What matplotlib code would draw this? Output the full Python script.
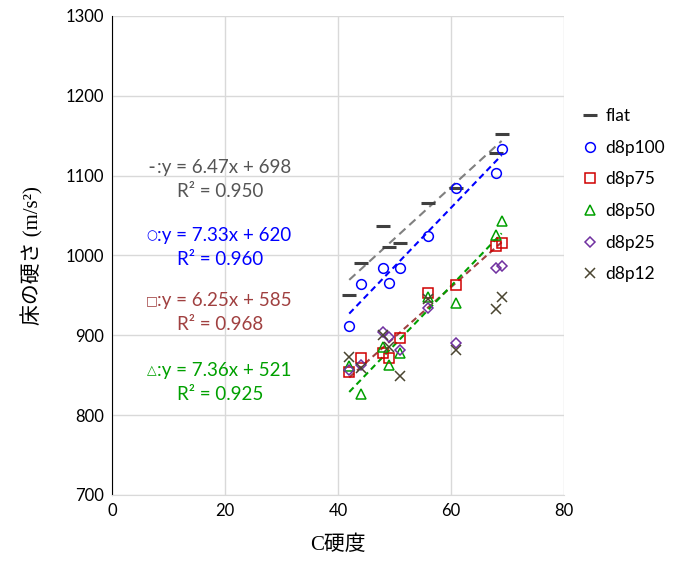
import numpy as np
import matplotlib
matplotlib.use("Agg")
import matplotlib.pyplot as plt

plt.rcParams['font.family'] = ['Lato', 'Noto Sans CJK JP', 'DejaVu Sans']

# C hardness of each test point
x = [42, 44, 48, 49, 51, 56, 61, 68, 69]

# floor hardness (m/s^2) for each series
flat = [950, 990, 1037, 1010, 1016, 1066, 1084, 1128, 1152]
d8p100 = [911, 964, 984, 965, 984, 1024, 1084, 1103, 1133]
d8p75 = [854, 871, 878, 871, 896, 953, 963, 1012, 1016]
d8p50 = [861, 826, 885, 863, 878, 948, 940, 1026, 1043]
d8p25 = [856, 863, 904, 898, 881, 934, 890, 984, 987]
d8p12 = [873, 859, 900, 885, 849, 945, 881, 933, 948]

names = ['flat', 'd8p100', 'd8p75', 'd8p50', 'd8p25', 'd8p12']
series = [flat, d8p100, d8p75, d8p50, d8p25, d8p12]
markers = ['_', 'o', 's', '^', 'D', 'x']
colors = ['#404040', '#0000FF', '#D00000', '#00A000', '#7030A0', '#4A4530']
sizes = [10, 7, 7, 7, 5.5, 7]

# trendline labels as printed on the chart
fit_text = [('–', ':y = 6.47x + 698', 'R² = 0.950', '#555555', '#808080'),
            ('○', ':y = 7.33x + 620', 'R² = 0.960', '#0000FF', '#0000FF'),
            ('□', ':y = 6.25x + 585', 'R² = 0.968', '#A04040', '#A04040'),
            ('△', ':y = 7.36x + 521', 'R² = 0.925', '#00A000', '#00A000')]
dashes = [(4, 2.5), (3, 2), (3, 2), (3, 2)]

fig = plt.figure(figsize=(6.8, 5.65), dpi=100)
ax = fig.add_axes([0.165, 0.124, 0.664, 0.848])

xs = np.array(x, dtype=float)
for name, ys, m, c, s in zip(names, series, markers, colors, sizes):
    if m == '_':
        ax.plot(xs, ys, linestyle='none', marker=m, markersize=s, markeredgewidth=2.2,
                color=c, label=name, zorder=3)
    else:
        ax.plot(xs, ys, linestyle='none', marker=m, markersize=s, markeredgewidth=1.1,
                markerfacecolor='none', markeredgecolor=c, label=name, zorder=3)

for i, (sym, eq, r2, tc, lc) in enumerate(fit_text):
    k, b = np.polyfit(xs, series[i], 1)
    xl = np.array([xs.min(), xs.max()])
    ax.plot(xl, k * xl + b, color=lc, linewidth=1.5, dashes=dashes[i], zorder=2)

ypos = [(1110, 1080), (1025, 995), (943, 913), (856, 826)]
for (sym, eq, r2, tc, lc), (y1, y2) in zip(fit_text, ypos):
    ax.text(7.0, y1, sym, color=tc, fontsize=9, va='center', ha='center',
            family='DejaVu Sans', fontweight='bold')
    ax.text(8.0, y1, eq, color=tc, fontsize=13.5, va='center')
    ax.text(11.5, y2, r2, color=tc, fontsize=13.5, va='center')

ax.set_xlim(0, 80)
ax.set_ylim(700, 1300)
ax.set_xticks(range(0, 81, 20))
ax.set_yticks(range(700, 1301, 100))
ax.tick_params(labelsize=12, length=0, pad=6)
ax.grid(True, color='#D9D9D9', linewidth=1)
ax.set_axisbelow(True)
for sp in ['top', 'right']:
    ax.spines[sp].set_visible(False)
ax.spines['left'].set_color('black')
ax.spines['bottom'].set_color('#D9D9D9')

label_font = ['Liberation Serif', 'Noto Sans CJK JP', 'DejaVu Sans']
ax.set_xlabel('C硬度', fontsize=15, labelpad=12, family=label_font)
ax.set_ylabel('床の硬さ (m/s²)', fontsize=15, labelpad=16, family=label_font)

ax.legend(loc='upper left', bbox_to_anchor=(1.0, 0.84), frameon=False, fontsize=12.5,
          labelspacing=0.9, handletextpad=0.3, handlelength=1.2)

fig.savefig('out.png', dpi=100)
